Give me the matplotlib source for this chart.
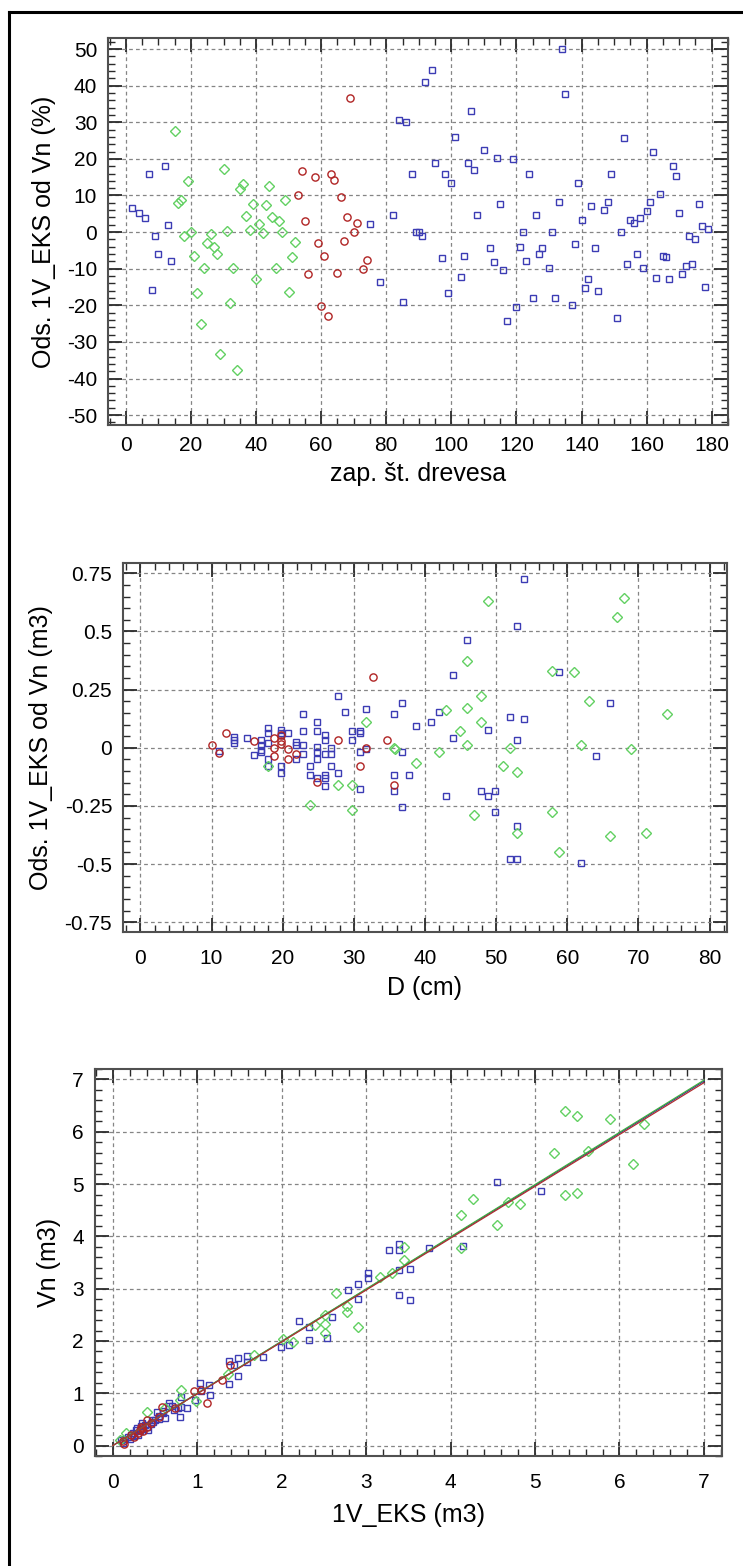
import numpy as np
import matplotlib
matplotlib.use("Agg")
import matplotlib.pyplot as plt
from matplotlib.ticker import MultipleLocator, FuncFormatter
from matplotlib.lines import Line2D

plt.rcParams['font.family'] = ['Liberation Sans', 'DejaVu Sans']
plt.rcParams['axes.unicode_minus'] = False

# ---------------- data: deviation (%) by tree number ----------------
p1_blue_x = [2, 4, 6, 7, 12, 13, 9, 10, 14, 8,
             75, 78, 82, 84, 86, 85, 88, 89, 90, 91,
             92, 94, 95, 97, 98, 99, 100, 101, 103, 104, 105, 106, 107, 108,
             110, 112, 113, 114, 115, 116, 117, 119, 120, 121, 122, 123, 124,
             125, 126, 127, 128, 130, 131, 132, 133, 134, 135, 137, 138, 139,
             140, 141, 142, 143, 144, 145, 147, 148, 149, 151, 152, 153, 154,
             155, 156, 157, 158, 159, 160, 161, 162, 163, 164, 165, 166, 167,
             168, 169, 170, 171, 172, 173, 174, 175, 176, 177, 178, 179]
p1_blue_y = [6.6, 5.3, 3.8, 16.0, 18.1, 2.0, -1.2, -6.0, -7.8, -15.8,
             2.3, -13.6, 4.7, 30.7, 30.1, -19.1, 15.8, 0.0, 0.0, -1.0,
             41.0, 44.4, 18.8, -7.1, 15.8, -16.6, 13.3, 25.9, -12.2, -6.5, 18.8, 33.2, 16.9, 4.7,
             22.4, -4.4, -8.3, 20.3, 7.7, -10.3, -24.3, 19.9, -20.4, -4.0, 0.0, -7.8, 16.0,
             -18.1, 4.7, -6.0, -4.4, -9.9, 0.0, -17.9, 8.2, 49.9, 37.8, -19.9, -3.3, 13.3,
             3.2, -15.4, -12.8, 7.1, -4.4, -16.0, 6.1, 8.2, 15.8, -23.4, 0.0, 25.7, -8.6,
             3.4, 2.5, -6.0, 3.8, -9.9, 5.7, 8.2, 21.9, -12.5, 10.5, -6.5, -6.7, -12.8,
             18.1, 15.4, 5.2, -11.5, -9.3, -1.2, -8.7, -1.8, 7.7, 1.7, -14.9, 0.8]

p1_green_x = [15, 19, 16, 17, 18, 20, 21, 22, 23, 24, 25, 26, 27, 28, 29, 30,
              31, 32, 33, 34, 35, 36, 37, 38, 39, 40, 41, 42, 43, 44, 45, 46,
              47, 48, 49, 50, 51, 52]
p1_green_y = [27.7, 13.9, 7.9, 8.7, -1.0, 0.1, -6.5, -16.6, -25.0, -9.7, -3.0, -0.6,
              -4.2, -6.0, -33.2, 17.1, 0.3, -19.5, -9.7, -37.8, 11.7, 13.1, 4.3, 0.5,
              7.6, -12.8, 2.3, -0.3, 7.3, 12.7, 4.1, -9.9, 2.9, 0.1, 8.7, -16.3, -6.9, -2.6]

p1_red_x = [53, 54, 55, 56, 58, 59, 60, 61, 62, 63, 64, 65, 66, 67, 68, 69, 70, 71, 73, 74]
p1_red_y = [10.2, 16.8, 3.1, -11.4, 15.0, -3.1, -20.3, -6.4, -23.0, 15.9, 14.3,
            -11.2, 9.5, -2.4, 4.2, 36.5, 0.1, 2.4, -10.2, -7.6]

# ---------------- data: deviation (m3) by diameter ----------------
p2_blue_x = [11.1, 13.1, 13.1, 13.1, 15.0, 15.9, 16.9, 16.9, 16.9, 16.9,
             17.9, 17.9, 17.9, 17.9, 17.9, 19.8, 19.8, 19.8, 19.8, 19.8,
             20.8, 21.8, 21.8, 21.8, 22.8, 22.8, 22.8, 22.8, 23.8, 23.8,
             24.8, 24.8, 24.8, 24.8, 24.8, 24.8, 25.9, 25.9, 25.9, 25.9,
             25.9, 25.9, 26.8, 26.8, 26.8, 27.8, 27.8, 28.8, 29.8, 29.8,
             30.8, 30.8, 30.8, 30.8, 31.7, 31.7, 35.7, 35.7, 35.7, 36.8,
             36.8, 36.8, 37.7, 38.7,
             53.9, 53.0, 45.9, 43.9, 58.9, 66.0, 41.9, 40.9, 52.0, 53.9,
             48.9, 43.9, 53.0, 64.0, 43.0, 47.9, 48.9, 49.9, 49.9, 53.0,
             52.0, 53.0, 61.9]
p2_blue_y = [-0.014, 0.046, 0.032, 0.020, 0.042, -0.029, 0.034, 0.013, -0.009, -0.019,
             0.086, 0.062, 0.021, -0.050, -0.079, 0.076, 0.064, 0.053, -0.079, -0.107,
             0.063, 0.024, 0.013, -0.050, 0.143, 0.073, 0.011, -0.026, -0.079, -0.117,
             0.112, 0.073, 0.003, -0.017, -0.050, -0.129, 0.054, 0.034, -0.026, -0.117,
             -0.132, -0.166, 0.0, -0.026, -0.079, 0.222, -0.107, 0.153, 0.073, 0.033,
             0.074, 0.063, -0.017, -0.176, 0.165, -0.007, 0.145, -0.117, -0.186, 0.192,
             -0.017, -0.255, -0.117, 0.092,
             0.725, 0.523, 0.463, 0.314, 0.324, 0.192, 0.153, 0.112, 0.132, 0.122,
             0.075, 0.042, 0.033, -0.037, -0.208, -0.186, -0.208, -0.186, -0.277, -0.337,
             -0.479, -0.479, -0.496]

p2_green_x = [17.9, 23.8, 27.8, 29.8, 29.8, 31.7, 35.7, 35.8, 38.7,
              48.9, 68.0, 67.0, 45.9, 57.9, 61.0, 47.9, 63.0, 43.0, 45.9,
              74.0, 47.9, 44.9, 45.9, 41.9, 52.0, 61.9, 69.0, 50.9, 53.0,
              46.9, 57.9, 53.0, 66.0, 71.0, 58.9]
p2_green_y = [-0.079, -0.246, -0.159, -0.159, -0.266, 0.112, 0.0, -0.006, -0.067,
              0.633, 0.643, 0.563, 0.372, 0.331, 0.324, 0.224, 0.202, 0.163, 0.172,
              0.143, 0.112, 0.073, 0.011, -0.017, 0.0, 0.011, -0.006, -0.079, -0.106,
              -0.288, -0.278, -0.368, -0.378, -0.368, -0.447]

p2_red_x = [10.0, 11.0, 12.0, 15.9, 18.8, 18.8, 18.8, 19.8, 19.8, 19.8,
            20.8, 20.8, 21.8, 24.8, 27.8, 30.8, 31.7, 32.7, 34.7, 35.7]
p2_red_y = [0.013, -0.024, 0.064, 0.031, 0.044, -0.003, -0.036, 0.054, 0.029, 0.017,
            -0.006, -0.047, -0.026, -0.148, 0.033, -0.079, -0.001, 0.305, 0.034, -0.158]

# ---------------- data: Vn against 1V_EKS ----------------
p3_blue_x = [4.55, 5.07, 4.15, 3.75, 3.39, 3.39, 3.27, 3.52, 3.39, 3.39, 3.52,
             3.02, 3.02, 2.90, 2.90, 2.78, 2.60, 2.54, 2.32, 2.20, 2.32, 2.09,
             1.99, 1.78, 1.59, 1.59, 1.48, 1.48, 1.38, 1.44, 1.38, 1.14, 1.03,
             1.15, 0.97, 1.05, 0.81, 0.81, 0.67, 0.67, 0.88, 0.77, 0.80, 0.59,
             0.55, 0.62, 0.55, 0.70, 0.52, 0.46, 0.41, 0.35, 0.38, 0.29, 0.32,
             0.27, 0.24, 0.25, 0.18, 0.20, 0.10, 0.12, 0.45, 0.48, 0.36, 0.30,
             0.15, 0.42, 0.33, 0.22, 0.50, 0.60, 0.72]
p3_blue_y = [5.03, 4.87, 3.82, 3.78, 3.86, 3.73, 3.74, 3.38, 3.35, 2.87, 2.79,
             3.29, 3.20, 3.09, 2.81, 2.97, 2.46, 2.06, 2.26, 2.39, 2.01, 1.92,
             1.88, 1.69, 1.71, 1.59, 1.68, 1.33, 1.62, 1.55, 1.17, 1.15, 1.20,
             0.97, 0.87, 1.04, 0.92, 0.73, 0.82, 0.76, 0.71, 0.71, 0.55, 0.62,
             0.57, 0.52, 0.50, 0.75, 0.65, 0.49, 0.36, 0.43, 0.40, 0.33, 0.27,
             0.30, 0.24, 0.18, 0.17, 0.13, 0.10, 0.05, 0.42, 0.45, 0.31, 0.20,
             0.12, 0.30, 0.38, 0.20, 0.48, 0.66, 0.68]

p3_green_x = [5.36, 5.50, 5.89, 6.29, 5.22, 5.63, 6.16, 5.36, 5.50, 4.27, 4.12,
              4.68, 4.82, 4.55, 4.12, 3.45, 3.45, 3.31, 3.17, 2.64, 2.77, 2.77,
              2.90, 2.51, 2.51, 2.51, 2.39, 2.14, 2.01, 1.67, 1.36, 0.81, 0.99,
              0.80, 0.41, 0.16, 0.08, 0.62]
p3_green_y = [6.39, 6.30, 6.25, 6.14, 5.60, 5.64, 5.39, 4.79, 4.83, 4.71, 4.40,
              4.66, 4.61, 4.22, 3.78, 3.80, 3.55, 3.29, 3.23, 2.92, 2.66, 2.55,
              2.27, 2.50, 2.33, 2.15, 2.31, 1.98, 2.04, 1.73, 1.37, 1.06, 0.86,
              0.87, 0.64, 0.24, 0.10, 0.72]

p3_red_x = [1.39, 1.29, 1.04, 0.96, 1.12, 0.74, 0.58, 0.41, 0.35, 0.32, 0.21,
            0.12, 0.13, 0.36, 0.40, 0.30, 0.45, 0.55, 0.25, 0.34]
p3_red_y = [1.55, 1.26, 1.06, 1.04, 0.81, 0.71, 0.73, 0.49, 0.33, 0.30, 0.20,
            0.08, 0.03, 0.28, 0.35, 0.25, 0.44, 0.55, 0.17, 0.36]

# x span of the fitted lines
fit_span = [0.0, 7.0]

BLUE = '#3c3cb4'
GREEN = '#62d062'
RED = '#b02424'

TICK_FS = 15
LABEL_FS = 18


def style_axes(ax, xmaj, xmin, ymaj, ymin, xpad=8):
    ax.xaxis.set_major_locator(MultipleLocator(xmaj))
    ax.xaxis.set_minor_locator(MultipleLocator(xmin))
    ax.yaxis.set_major_locator(MultipleLocator(ymaj))
    ax.yaxis.set_minor_locator(MultipleLocator(ymin))
    ax.tick_params(which='both', direction='in', top=True, right=True,
                   colors='#2a2a2a', labelcolor='black', labelsize=TICK_FS)
    ax.tick_params(which='major', length=10, width=1.3, pad=8)
    ax.tick_params(axis='x', which='major', pad=xpad)
    ax.tick_params(which='minor', length=5, width=1.0)
    for s in ax.spines.values():
        s.set_color('#505050')
        s.set_linewidth(1.5)
    ax.grid(True, which='major', color='#858585', linestyle=(0, (3, 2.5)),
            linewidth=0.9)
    ax.set_axisbelow(True)


def scatter_groups(ax, groups):
    for x, y, marker, color, ms in groups:
        ax.plot(x, y, linestyle='none', marker=marker, markersize=ms,
                markerfacecolor='none', markeredgecolor=color,
                markeredgewidth=1.0)


fig = plt.figure(figsize=(7.43, 15.66), dpi=100)

# ---- top panel ----
ax1 = fig.add_axes([0.1458, 0.7286, 0.9802 - 0.1458, 0.9757 - 0.7286])
scatter_groups(ax1, [
    (p1_blue_x, p1_blue_y, 's', BLUE, 4.8),
    (p1_green_x, p1_green_y, 'D', GREEN, 4.6),
    (p1_red_x, p1_red_y, 'o', RED, 5.2),
])
ax1.set_xlim(-5.4, 185.1)
ax1.set_ylim(-52.7, 53.0)
style_axes(ax1, 20, 5, 10, 2, xpad=8)
ax1.set_xlabel('zap. št. drevesa', fontsize=LABEL_FS, labelpad=5)
ax1.set_ylabel('Ods. 1V_EKS od Vn (%)', fontsize=LABEL_FS, labelpad=8)

# ---- middle panel ----
ax2 = fig.add_axes([0.166, 0.4047, 0.978 - 0.166, 0.6403 - 0.4047])
scatter_groups(ax2, [
    (p2_blue_x, p2_blue_y, 's', BLUE, 4.8),
    (p2_green_x, p2_green_y, 'D', GREEN, 4.6),
    (p2_red_x, p2_red_y, 'o', RED, 5.2),
])
ax2.set_xlim(-2.4, 82.4)
ax2.set_ylim(-0.793, 0.793)
style_axes(ax2, 10, 2, 0.25, 0.05, xpad=12)
ax2.yaxis.set_major_formatter(FuncFormatter(lambda v, p: f'{v:g}'))
ax2.set_xlabel('D (cm)', fontsize=LABEL_FS, labelpad=6)
ax2.set_ylabel('Ods. 1V_EKS od Vn (m3)', fontsize=LABEL_FS, labelpad=8)

# ---- bottom panel ----
ax3 = fig.add_axes([0.1279, 0.0702, 0.9713 - 0.1279, 0.3174 - 0.0702])
scatter_groups(ax3, [
    (p3_blue_x, p3_blue_y, 's', BLUE, 4.8),
    (p3_green_x, p3_green_y, 'D', GREEN, 4.6),
    (p3_red_x, p3_red_y, 'o', RED, 5.2),
])
# least-squares lines through the origin for each group
xs = np.array(fit_span)
for gx, gy, col in [(p3_blue_x, p3_blue_y, '#3030a0'),
                    (p3_green_x, p3_green_y, '#40b040'),
                    (p3_red_x, p3_red_y, '#b03030')]:
    gx = np.asarray(gx)
    gy = np.asarray(gy)
    k = np.sum(gx * gy) / np.sum(gx * gx)
    ax3.plot(xs, k * xs, color=col, linewidth=0.9)
ax3.set_xlim(-0.21, 7.21)
ax3.set_ylim(-0.2, 7.2)
style_axes(ax3, 1, 0.2, 1, 0.2, xpad=12)
ax3.set_xlabel('1V_EKS (m3)', fontsize=LABEL_FS, labelpad=8)
ax3.set_ylabel('Vn (m3)', fontsize=LABEL_FS, labelpad=8)

# page frame
fig.add_artist(Line2D([9 / 743, 9 / 743], [0, 1 - 12 / 1566], color='black',
                      linewidth=2.2, transform=fig.transFigure))
fig.add_artist(Line2D([9 / 743, 1], [1 - 12 / 1566, 1 - 12 / 1566], color='black',
                      linewidth=2.2, transform=fig.transFigure))

fig.savefig('out.png', dpi=100)
